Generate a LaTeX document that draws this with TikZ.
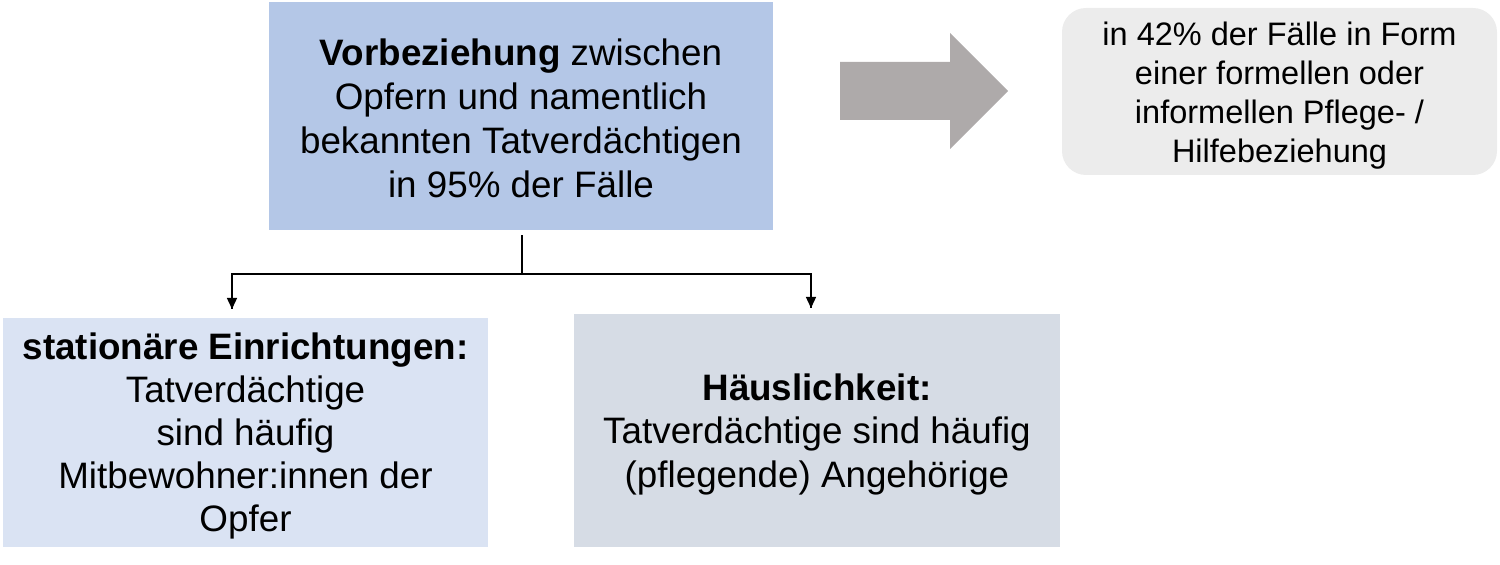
\documentclass[tikz,border=0pt]{standalone}
\usepackage{fontspec}
\setmainfont{Liberation Sans}
\usetikzlibrary{%
  positioning
 ,arrows.meta
 ,calc
}
\definecolor{vbblue}{HTML}{B4C7E7}
\definecolor{stblue}{HTML}{DAE3F3}
\definecolor{hsgray}{HTML}{D6DCE5}
\definecolor{hintgray}{HTML}{ECECEC}
\definecolor{arrgray}{HTML}{AEAAAA}
\tikzstyle{box}=[inner sep=2pt,align=center,font=\fontsize{18.4}{22}\selectfont]
\tikzstyle{lnk}=[draw=black,line width=0.7pt]
% extra room above the first line, so the text sits a bit lower
\newcommand{\lowr}[1]{\rule{0pt}{#1}}

\begin{document}
\begin{tikzpicture}[x=0.5pt,y=-0.5pt,
    every edge/.style={lnk,-{Triangle[width=5pt,length=5.5pt]}}]
  \useasboundingbox (0,0) rectangle (1500,565);
  % the top box and the hint
  \node[box,fill=vbblue,minimum width=252pt,minimum height=114pt](vb)at(521,116)
    {\lowr{15.2pt}\textbf{Vorbeziehung} zwischen\\Opfern und namentlich\\bekannten Tatverdächtigen\\in 95\% der Fälle};
  \node[box,fill=hintgray,rounded corners=12pt,minimum width=217.5pt,minimum height=83.5pt,
    font=\fontsize{16.25}{19.5}\selectfont](hint)at(1279.5,91.5)
    {\lowr{15.7pt}in 42\% der Fälle in Form\\einer formellen oder\\informellen Pflege- /\\Hilfebeziehung};
  \fill[arrgray] (840,62)--(950,62)--(950,33)--(1008,91)--(950,149)--(950,120)--(840,120)--cycle;
  % the two lower boxes
  \node[box,fill=stblue,minimum width=242.5pt,minimum height=114.5pt,
    font=\fontsize{18.4}{21.5}\selectfont](st)at(245.5,432.5)
    {\lowr{17.2pt}\textbf{stationäre Einrichtungen:}\\Tatverdächtige\\sind häufig\\Mitbewohner:innen der\\Opfer};
  \node[box,fill=hsgray,minimum width=243pt,minimum height=116.5pt,
    font=\fontsize{18.4}{21.75}\selectfont](hs)at(817,430.5)
    {\lowr{17.2pt}\textbf{Häuslichkeit:}\\Tatverdächtige sind häufig\\(pflegende) Angehörige};
  % the links
  \coordinate(fork)at(522,274);\coordinate(stin)at(232,309);\coordinate(hsin)at(811,308);
  \draw[lnk] ($(vb.south)+(1,5)$)--(fork);
  \draw[lnk] (fork)-|(stin) (fork)-|(hsin);
  \path (stin|-fork)edge(stin) (hsin|-fork)edge(hsin);
\end{tikzpicture}
\end{document}
